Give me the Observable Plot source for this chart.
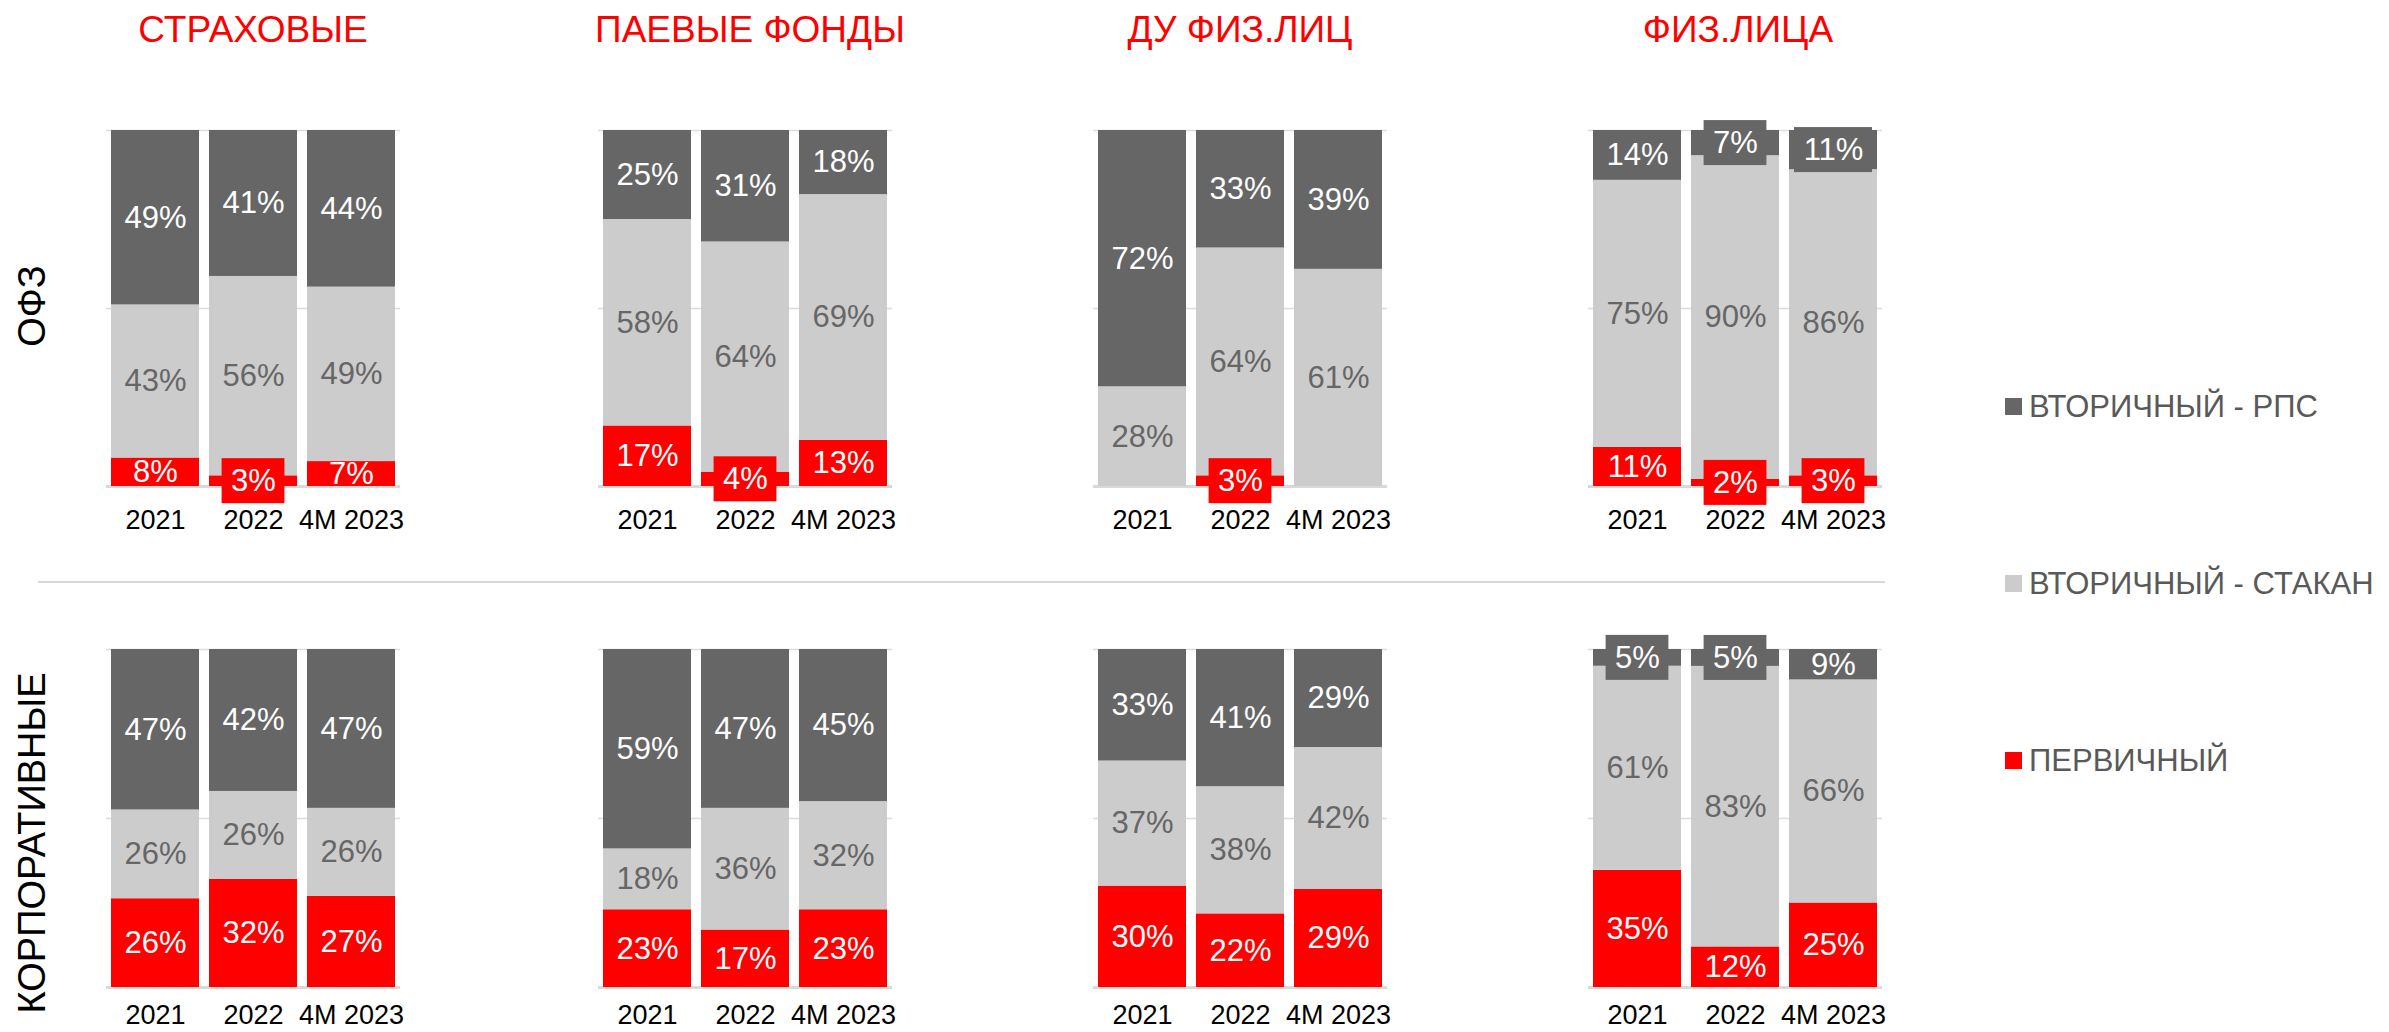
<!DOCTYPE html>
<html><head><meta charset="utf-8">
<script src="https://cdn.jsdelivr.net/npm/d3@7"></script>
<script src="https://cdn.jsdelivr.net/npm/@observablehq/plot@0.6"></script>
<style>
body{margin:0;background:#fff;}
#root{position:relative;width:2389px;height:1032px;overflow:hidden;font-family:"Liberation Sans",Arial,sans-serif;background:#fff;}
.abs{position:absolute;white-space:nowrap;line-height:1;}
svg{overflow:visible;}
</style></head><body><div id="root"></div>
<script>
// ---- data ----
const bondTypes = ["ОФЗ", "КОРПОРАТИВНЫЕ"];
const investors = ["СТРАХОВЫЕ", "ПАЕВЫЕ ФОНДЫ", "ДУ ФИЗ.ЛИЦ", "ФИЗ.ЛИЦА"];
const periods = ["2021", "2022", "4M 2023"];
const segments = ["ПЕРВИЧНЫЙ", "ВТОРИЧНЫЙ - СТАКАН", "ВТОРИЧНЫЙ - РПС"];
const legendOrder = ["ВТОРИЧНЫЙ - РПС", "ВТОРИЧНЫЙ - СТАКАН", "ПЕРВИЧНЫЙ"];

// values per investor (rows) and period (columns), %
const ofzPrimary = [[8, 3, 7], [17, 4, 13], [0, 3, 0], [11, 2, 3]];
const ofzStakan  = [[43, 56, 49], [58, 64, 69], [28, 64, 61], [75, 90, 86]];
const ofzRps     = [[49, 41, 44], [25, 31, 18], [72, 33, 39], [14, 7, 11]];
const corpPrimary = [[26, 32, 27], [23, 17, 23], [30, 22, 29], [35, 12, 25]];
const corpStakan  = [[26, 26, 26], [18, 36, 32], [37, 38, 42], [61, 83, 66]];
const corpRps     = [[47, 42, 47], [59, 47, 45], [33, 41, 29], [5, 5, 9]];

// labels drawn with a filled box (bond|investor|period|segment)
const boxedLabels = [
  "ОФЗ|СТРАХОВЫЕ|2022|ПЕРВИЧНЫЙ",
  "ОФЗ|ПАЕВЫЕ ФОНДЫ|2022|ПЕРВИЧНЫЙ",
  "ОФЗ|ДУ ФИЗ.ЛИЦ|2022|ПЕРВИЧНЫЙ",
  "ОФЗ|ФИЗ.ЛИЦА|2022|ПЕРВИЧНЫЙ",
  "ОФЗ|ФИЗ.ЛИЦА|4M 2023|ПЕРВИЧНЫЙ",
  "ОФЗ|ФИЗ.ЛИЦА|2022|ВТОРИЧНЫЙ - РПС",
  "ОФЗ|ФИЗ.ЛИЦА|4M 2023|ВТОРИЧНЫЙ - РПС",
  "КОРПОРАТИВНЫЕ|ФИЗ.ЛИЦА|2021|ВТОРИЧНЫЙ - РПС",
  "КОРПОРАТИВНЫЕ|ФИЗ.ЛИЦА|2022|ВТОРИЧНЫЙ - РПС"
];

// ---- styling / layout ----
const FONT = '"Liberation Sans", Arial, sans-serif';
const segmentColors = ["#ff0000", "#cccccc", "#666666"];
const panelLeft = [106, 598, 1093, 1588];
const titleCenter = [253, 750, 1240, 1738];
const panelW = 294;
const rowTop = [130, 649];
const rowH = [356, 338];
const mL = 10, mR = 10, mT = 40;
const mBrow = [70, 45];
const tickPadRow = [23, 17];

const seriesByBond = [[ofzPrimary, ofzStakan, ofzRps], [corpPrimary, corpStakan, corpRps]];

const root = document.getElementById("root");
function addDiv(text, css) {
  const d = document.createElement("div");
  d.className = "abs";
  d.textContent = text;
  Object.assign(d.style, css);
  root.appendChild(d);
  return d;
}

bondTypes.forEach((bond, r) => {
  investors.forEach((inv, i) => {
    const rows = [];
    periods.forEach((p, k) => {
      const vals = segments.map((s, j) => seriesByBond[r][j][i][k]);
      const total = d3.sum(vals);
      let cum = 0;
      segments.forEach((s, j) => {
        const v = vals[j];
        rows.push({
          period: p, segment: s, value: v,
          mid: (cum + v / 2) / total,
          boxed: boxedLabels.includes(`${bond}|${inv}|${p}|${s}`)
        });
        cum += v;
      });
    });
    const labeled = rows.filter(d => d.value > 0);
    const whiteLab = labeled.filter(d => d.segment !== "ВТОРИЧНЫЙ - СТАКАН");
    const grayLab = labeled.filter(d => d.segment === "ВТОРИЧНЫЙ - СТАКАН");
    const box1 = labeled.filter(d => d.boxed && d.value < 10);
    const box2 = labeled.filter(d => d.boxed && d.value >= 10);
    const mB = mBrow[r];

    const svg = Plot.plot({
      width: panelW + mL + mR,
      height: rowH[r] + mT + mB,
      marginLeft: mL, marginRight: mR, marginTop: mT, marginBottom: mB,
      style: {fontFamily: FONT, fontSize: "27px", color: "#000", background: "transparent", overflow: "visible"},
      x: {domain: periods, paddingInner: 0.1, paddingOuter: 0.05, tickSize: 0, tickPadding: tickPadRow[r], label: null},
      y: {domain: [0, 1], axis: null},
      color: {domain: segments, range: segmentColors},
      marks: [
        Plot.ruleY([0.5, 1], {stroke: "#dcdcdc", strokeWidth: 1.5}),
        Plot.ruleY([0], {stroke: "#d9d9d9", strokeWidth: 3}),
        Plot.barY(rows, Plot.stackY({offset: "normalize", order: segments},
          {x: "period", y: "value", fill: "segment"})),
        Plot.barY(box1, {x: "period", y1: "mid", y2: "mid", fill: "segment",
          insetTop: -22.5, insetBottom: -22.5, insetLeft: 12.6, insetRight: 12.6}),
        Plot.barY(box2, {x: "period", y1: "mid", y2: "mid", fill: "segment",
          insetTop: -22.5, insetBottom: -22.5, insetLeft: 5, insetRight: 5}),
        Plot.text(whiteLab, {x: "period", y: "mid", text: d => d.value + "%", fill: "#ffffff", fontSize: 31}),
        Plot.text(grayLab, {x: "period", y: "mid", text: d => d.value + "%", fill: "#666666", fontSize: 31})
      ]
    });
    svg.style.position = "absolute";
    svg.style.left = (panelLeft[i] - mL) + "px";
    svg.style.top = (rowTop[r] - mT) + "px";
    root.appendChild(svg);

    if (r === 0) {
      addDiv(inv, {left: titleCenter[i] + "px", top: "11px", transform: "translateX(-50%)",
        fontSize: "37px", color: "#ff0000"});
    }
  });
});

// row labels
const rowLabelCenters = [306, 843];
bondTypes.forEach((b, r) => {
  addDiv(b, {left: "32px", top: rowLabelCenters[r] + "px",
    transform: "translate(-50%,-50%) rotate(-90deg)", fontSize: "38px", color: "#000"});
});

// separator
const sep = document.createElement("div");
Object.assign(sep.style, {position: "absolute", left: "38px", top: "581px", width: "1847px", height: "2px", background: "#d9d9d9"});
root.appendChild(sep);

// legend
const legendY = [406, 583, 760];
legendOrder.forEach((s, n) => {
  const c = segmentColors[segments.indexOf(s)];
  const item = document.createElement("div");
  Object.assign(item.style, {position: "absolute", left: "2005px", top: (legendY[n] - 20) + "px", height: "40px",
    display: "flex", alignItems: "center", whiteSpace: "nowrap"});
  const sw = document.createElement("div");
  Object.assign(sw.style, {width: "17px", height: "17px", background: c, marginRight: "7px", flex: "none"});
  const tx = document.createElement("span");
  tx.textContent = s;
  Object.assign(tx.style, {fontSize: "31px", color: "#595959", lineHeight: "1"});
  item.appendChild(sw); item.appendChild(tx);
  root.appendChild(item);
});
</script>
</body></html>
